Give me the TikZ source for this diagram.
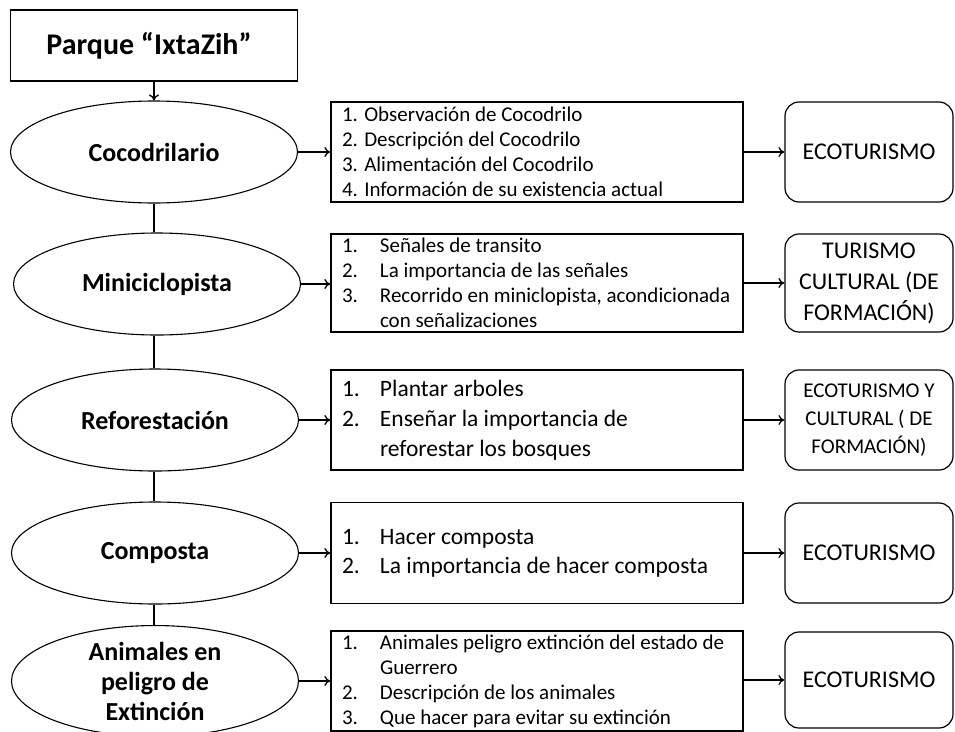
\documentclass[tikz,border=0pt]{standalone}
\usepackage{fontspec}
\setmainfont{Carlito}
\usetikzlibrary{shapes.geometric,arrows.meta}

\tikzset{
  titulo/.style={draw, line width=1.3pt, minimum width=287pt, minimum height=71pt,
    font=\bfseries\fontsize{30}{36}\selectfont},
  lugar/.style={ellipse, draw, line width=1.1pt, minimum width=287pt, minimum height=102pt,
    inner sep=0pt, align=center, font=\bfseries\fontsize{26}{30}\selectfont},
  lista/.style={draw, line width=1.3pt, minimum height=100pt, text width=390pt,
    inner xsep=11pt, align=flush left},
  tipo/.style={draw, line width=1.2pt, rounded corners=14pt, minimum width=168pt,
    minimum height=100pt, align=center, font=\fontsize{24}{31}\selectfont},
  flecha/.style={-{To[length=6pt,width=10pt]}, line width=1.3pt},
}
\newcommand{\itemnum}[1]{\makebox[38pt][l]{#1}}

\begin{document}
\begin{tikzpicture}[x=1pt,y=-1pt]
  \useasboundingbox (0,0) rectangle (955,731);
  \clip (0,0) rectangle (955,731);

  \node[titulo] (parque) at (154,45.5) {Parque “IxtaZih”\hspace*{10pt}};

  % columna de lugares
  \node[lugar] (cocod) at (154,152) {Cocodrilario};
  \node[lugar] (minic) at (157,284) {Miniciclopista};
  \node[lugar] (refor) at (155,420) {Reforestación};
  \node[lugar] (compo) at (155,553) {Composta};
  \node[lugar] (anima) at (155,681) {Animales en\\peligro de\\Extinción};

  % actividades
  \node[lista, font=\fontsize{21}{25}\selectfont] (lst1) at (537,152)
    {1. Observación de Cocodrilo\\2. Descripción del Cocodrilo\\3. Alimentación del Cocodrilo\\4. Información de su existencia actual};
  \node[lista, font=\fontsize{21}{25}\selectfont, minimum height=98pt] (lst2) at (537,283)
    {\itemnum{1.}Señales de transito\\\itemnum{2.}La importancia de las señales\\\itemnum{3.}Recorrido en miniclopista, acondicionada\\\hspace*{38pt}con señalizaciones};
  \node[lista, font=\fontsize{23.5}{30}\selectfont] (lst3) at (537,420)
    {\itemnum{1.}Plantar arboles\\\itemnum{2.}Enseñar la importancia de\\\hspace*{38pt}reforestar los bosques};
  \node[lista, font=\fontsize{23.5}{29}\selectfont, minimum height=101pt] (lst4) at (537,553)
    {\itemnum{1.}Hacer composta\\\itemnum{2.}La importancia de hacer composta};
  \node[lista, font=\fontsize{21}{25}\selectfont] (lst5) at (537,681)
    {\itemnum{1.}Animales peligro extinción del estado de\\\hspace*{38pt}Guerrero\\\itemnum{2.}Descripción de los animales\\\itemnum{3.}Que hacer para evitar su extinción};

  % tipo de turismo
  \node[tipo] (tur1) at (869,152) {ECOTURISMO};
  \node[tipo, minimum height=98pt] (tur2) at (869,283) {TURISMO\\CULTURAL (DE\\FORMACIÓN)};
  \node[tipo, font=\fontsize{21}{28}\selectfont] (tur3) at (869,420) {ECOTURISMO Y\\CULTURAL ( DE\\FORMACIÓN)};
  \node[tipo] (tur4) at (869,553) {ECOTURISMO};
  \node[tipo, minimum height=96pt] (tur5) at (869,680) {ECOTURISMO};

  \draw[flecha] (parque) -- (cocod);
  \draw[line width=1.1pt] (cocod.south) -- (cocod.south |- minic.north);
  \draw[line width=1.1pt] (minic.south -| cocod.south) -- (refor.north -| cocod.south);
  \draw[line width=1.1pt] (refor.south -| cocod.south) -- (compo.north -| cocod.south);
  \draw[line width=1.1pt] (compo.south -| cocod.south) -- (anima.north -| cocod.south);

  \foreach \l/\a/\t in {cocod/lst1/tur1, minic/lst2/tur2, refor/lst3/tur3, compo/lst4/tur4, anima/lst5/tur5}
  {
    \draw[flecha] (\l.east) -- (\l.east -| \a.west);
    \draw[flecha] (\a.east |- \t.west) -- (\t.west);
  }
\end{tikzpicture}
\end{document}
